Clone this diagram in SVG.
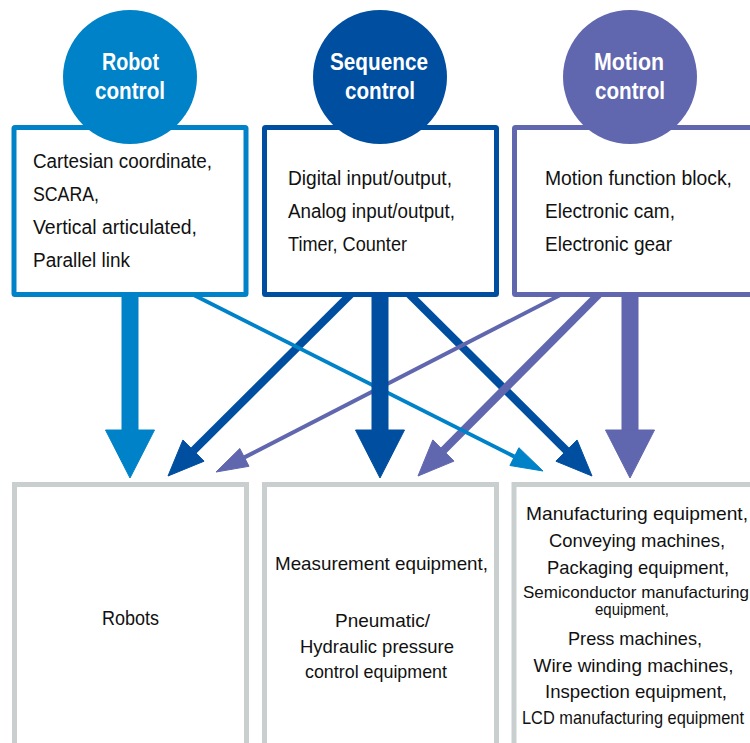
<svg xmlns="http://www.w3.org/2000/svg" width="750" height="743" viewBox="0 0 750 743">
<style>
.t{font-family:"Liberation Sans",Arial,sans-serif;fill:#111;}
.body{font-size:19.5px;}
.ttl{font-size:23.5px;font-weight:bold;fill:#fff;text-anchor:middle;}
.bt{text-anchor:middle;}
.cap{fill:#fff;stroke-width:5;}
.out{fill:#fff;stroke:#C9CFCF;stroke-width:5;}
.rb{stroke:#0082C8;fill:#0082C8;}
.sq{stroke:#004EA0;fill:#004EA0;}
.mo{stroke:#6067AE;fill:#6067AE;}
.ln{fill:none;}
</style>
<g id="connectors">
  <line class="sq ln" x1="355" y1="290" x2="193.5" y2="450.6" stroke-width="8"/>
  <polygon class="sq" stroke="none" points="168,476 204.1,461.2 182.9,440"/>
  <line class="sq ln" x1="405" y1="290" x2="566.5" y2="450.6" stroke-width="8"/>
  <polygon class="sq" stroke="none" points="592,476 555.9,461.2 577.1,440"/>
  <line class="mo ln" x1="570" y1="290" x2="244.4" y2="457.4" stroke-width="4"/>
  <polygon class="mo" stroke="none" points="216,472 249,466.3 239.8,448.5"/>
  <line class="mo ln" x1="603" y1="290" x2="443.4" y2="450.5" stroke-width="8"/>
  <polygon class="mo" stroke="none" points="418,476 454,461.1 432.8,439.9"/>
  <line class="rb ln" x1="183.8" y1="290" x2="514.4" y2="456.6" stroke-width="4"/>
  <polygon class="rb" stroke="none" points="543,471 509.9,465.5 518.9,447.7"/>
  <rect class="rb" stroke="none" x="122" y="290" width="16" height="142"/>
  <polygon class="rb" stroke="none" points="105.5,430 154.5,430 130,478"/>
  <rect class="sq" stroke="none" x="372" y="290" width="16" height="142"/>
  <polygon class="sq" stroke="none" points="355.5,430 404.5,430 380,478"/>
  <rect class="mo" stroke="none" x="622" y="290" width="16" height="142"/>
  <polygon class="mo" stroke="none" points="605.5,430 654.5,430 630,478"/>
</g>
<g id="robot-control">
  <rect class="cap" stroke="#0082C8" x="14" y="127.5" width="232" height="167" rx="1"/>
  <circle cx="130" cy="77" r="67" fill="#0082C8"/>
  <text class="t ttl" x="130.5" y="70" textLength="57" lengthAdjust="spacingAndGlyphs">Robot</text>
  <text class="t ttl" x="130" y="99" textLength="70" lengthAdjust="spacingAndGlyphs">control</text>
  <text class="t body" x="33" y="168" textLength="179" lengthAdjust="spacingAndGlyphs">Cartesian coordinate,</text>
  <text class="t body" x="33" y="201" textLength="66" lengthAdjust="spacingAndGlyphs">SCARA,</text>
  <text class="t body" x="33" y="234" textLength="164" lengthAdjust="spacingAndGlyphs">Vertical articulated,</text>
  <text class="t body" x="33" y="267" textLength="97" lengthAdjust="spacingAndGlyphs">Parallel link</text>
</g>
<g id="sequence-control">
  <rect class="cap" stroke="#004EA0" x="264.5" y="127.5" width="232" height="167" rx="1"/>
  <circle cx="380" cy="77" r="67" fill="#004EA0"/>
  <text class="t ttl" x="379" y="70" textLength="98" lengthAdjust="spacingAndGlyphs">Sequence</text>
  <text class="t ttl" x="380" y="99" textLength="70" lengthAdjust="spacingAndGlyphs">control</text>
  <text class="t body" x="288" y="185" textLength="164" lengthAdjust="spacingAndGlyphs">Digital input/output,</text>
  <text class="t body" x="288" y="218" textLength="167" lengthAdjust="spacingAndGlyphs">Analog input/output,</text>
  <text class="t body" x="288" y="251" textLength="119" lengthAdjust="spacingAndGlyphs">Timer, Counter</text>
</g>
<g id="motion-control">
  <rect class="cap" stroke="#6067AE" x="514.5" y="127.5" width="260" height="167" rx="1"/>
  <circle cx="630" cy="77" r="67" fill="#6067AE"/>
  <text class="t ttl" x="629" y="70" textLength="70" lengthAdjust="spacingAndGlyphs">Motion</text>
  <text class="t ttl" x="630" y="99" textLength="70" lengthAdjust="spacingAndGlyphs">control</text>
  <text class="t body" x="545" y="185" textLength="187" lengthAdjust="spacingAndGlyphs">Motion function block,</text>
  <text class="t body" x="545" y="218" textLength="130" lengthAdjust="spacingAndGlyphs">Electronic cam,</text>
  <text class="t body" x="545" y="251" textLength="127" lengthAdjust="spacingAndGlyphs">Electronic gear</text>
</g>
<g id="robots">
  <rect class="out" x="14.5" y="484.5" width="232" height="300"/>
  <text class="t bt" x="130.5" y="625" font-size="21" textLength="57" lengthAdjust="spacingAndGlyphs">Robots</text>
</g>
<g id="measurement">
  <rect class="out" x="264.5" y="484.5" width="232" height="300"/>
  <text class="t bt" x="381.5" y="570" font-size="18.5" textLength="213" lengthAdjust="spacingAndGlyphs">Measurement equipment,</text>
  <text class="t bt" x="382.5" y="627" font-size="18.5" textLength="95" lengthAdjust="spacingAndGlyphs">Pneumatic/</text>
  <text class="t bt" x="377" y="653" font-size="18.5" textLength="154" lengthAdjust="spacingAndGlyphs">Hydraulic pressure</text>
  <text class="t bt" x="376" y="678" font-size="18.5" textLength="142" lengthAdjust="spacingAndGlyphs">control equipment</text>
</g>
<g id="manufacturing">
  <rect class="out" x="514" y="484.5" width="260" height="300"/>
  <text class="t bt" x="637" y="520" font-size="19" textLength="222" lengthAdjust="spacingAndGlyphs">Manufacturing equipment,</text>
  <text class="t bt" x="637" y="547" font-size="19" textLength="176" lengthAdjust="spacingAndGlyphs">Conveying machines,</text>
  <text class="t bt" x="638" y="573.5" font-size="19" textLength="182" lengthAdjust="spacingAndGlyphs">Packaging equipment,</text>
  <text class="t bt" x="636" y="598" font-size="16.5" textLength="226" lengthAdjust="spacingAndGlyphs">Semiconductor manufacturing</text>
  <text class="t bt" x="632" y="615" font-size="16.5" textLength="74" lengthAdjust="spacingAndGlyphs">equipment,</text>
  <text class="t bt" x="635" y="645" font-size="19" textLength="134" lengthAdjust="spacingAndGlyphs">Press machines,</text>
  <text class="t bt" x="633.5" y="671.5" font-size="19" textLength="200" lengthAdjust="spacingAndGlyphs">Wire winding machines,</text>
  <text class="t bt" x="636" y="698" font-size="19" textLength="182" lengthAdjust="spacingAndGlyphs">Inspection equipment,</text>
  <text class="t bt" x="633" y="724" font-size="18.5" textLength="222" lengthAdjust="spacingAndGlyphs">LCD manufacturing equipment</text>
</g>
</svg>
